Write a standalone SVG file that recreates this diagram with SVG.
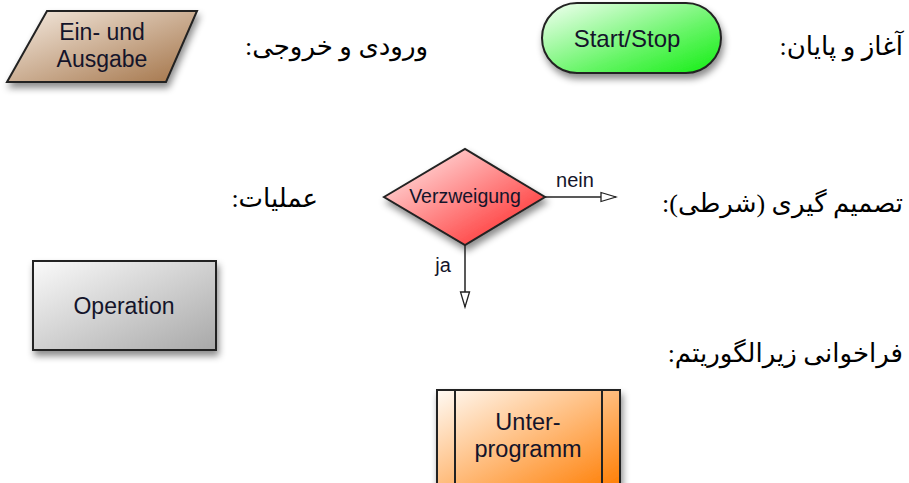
<svg xmlns="http://www.w3.org/2000/svg" width="909" height="483" viewBox="0 0 909 483">
<style>
.lbl{font-family:"Liberation Sans",Arial,sans-serif;fill:#14142a;text-anchor:middle}
.fa{font-family:"Liberation Serif","DejaVu Serif","DejaVu Sans",serif;font-size:26px;fill:#000}
.shape{stroke:#222;stroke-width:2}
.conn{stroke:#222;stroke-width:1.5;fill:none}
</style>
<defs>
<filter id="sh" x="-20%" y="-20%" width="150%" height="160%">
<feDropShadow dx="2" dy="5" stdDeviation="3.5" flood-color="#000" flood-opacity="0.45"/>
</filter>
<linearGradient id="gBrown" x1="0" y1="0" x2="1" y2="1"><stop offset="0" stop-color="#f6ece2"/><stop offset="1" stop-color="#a27246"/></linearGradient>
<linearGradient id="gGreen" x1="0" y1="0" x2="1" y2="1"><stop offset="0" stop-color="#f4fff4"/><stop offset="0.6" stop-color="#66f566"/><stop offset="1" stop-color="#11ee11"/></linearGradient>
<linearGradient id="gRed" x1="0" y1="0" x2="1" y2="1"><stop offset="0" stop-color="#fff4f4"/><stop offset="1" stop-color="#ff1a1a"/></linearGradient>
<linearGradient id="gGray" x1="0" y1="0" x2="1" y2="1"><stop offset="0" stop-color="#fafafa"/><stop offset="1" stop-color="#a8a8a8"/></linearGradient>
<linearGradient id="gOrange" x1="0" y1="0" x2="1" y2="1"><stop offset="0" stop-color="#fffaf4"/><stop offset="1" stop-color="#ff7c00"/></linearGradient>
<marker id="arr" markerWidth="18" markerHeight="12" refX="16" refY="6" orient="auto" markerUnits="userSpaceOnUse">
<path d="M1,1.5 L16,6 L1,10.5 Z" fill="#fff" stroke="#222" stroke-width="1.3"/>
</marker>
</defs>

<g id="io">
<polygon class="shape" points="47,11 197,11 166,82 7,82" fill="url(#gBrown)" filter="url(#sh)"/>
<text class="lbl" x="102" y="40" font-size="23">Ein- und</text>
<text class="lbl" x="102" y="67" font-size="23">Ausgabe</text>
</g>

<g id="startstop">
<rect class="shape" x="542" y="3" width="179" height="70" rx="35" ry="35" fill="url(#gGreen)" filter="url(#sh)"/>
<text class="lbl" x="627" y="47" font-size="24">Start/Stop</text>
</g>

<g id="decision">
<polygon class="shape" points="384,197 465,149 545,197 465,245" fill="url(#gRed)" filter="url(#sh)"/>
<text class="lbl" x="465" y="203" font-size="19.5">Verzweigung</text>
</g>

<g id="operation">
<rect class="shape" x="33" y="261" width="183" height="89" fill="url(#gGray)" filter="url(#sh)"/>
<text class="lbl" x="124" y="314" font-size="23">Operation</text>
</g>

<g id="subprogram">
<rect class="shape" x="437" y="390" width="183" height="100" fill="url(#gOrange)" filter="url(#sh)"/>
<line class="shape" x1="455" y1="390" x2="455" y2="490"/>
<line class="shape" x1="602" y1="390" x2="602" y2="490"/>
<text class="lbl" x="528" y="430" font-size="23.5">Unter-</text>
<text class="lbl" x="528" y="457" font-size="23.5">programm</text>
</g>

<g id="connectors">
<line class="conn" x1="545" y1="197" x2="616" y2="197" marker-end="url(#arr)"/>
<line class="conn" x1="465" y1="245" x2="465" y2="307" marker-end="url(#arr)"/>
<text class="lbl" x="575" y="187" font-size="20">nein</text>
<text class="lbl" x="443" y="272" font-size="20">ja</text>
</g>

<g id="captions">
<text class="fa" x="903" y="55" direction="rtl" text-anchor="start">آغاز و پایان:</text>
<text class="fa" x="428" y="55" direction="rtl" text-anchor="start" font-size="24.5">ورودی و خروجی:</text>
<text class="fa" x="903" y="212" direction="rtl" text-anchor="start">تصمیم گیری (شرطی):</text>
<text class="fa" x="318" y="207" direction="rtl" text-anchor="start">عملیات:</text>
<text class="fa" x="903" y="362" direction="rtl" text-anchor="start">فراخوانی زیرالگوریتم:</text>
</g>
</svg>
